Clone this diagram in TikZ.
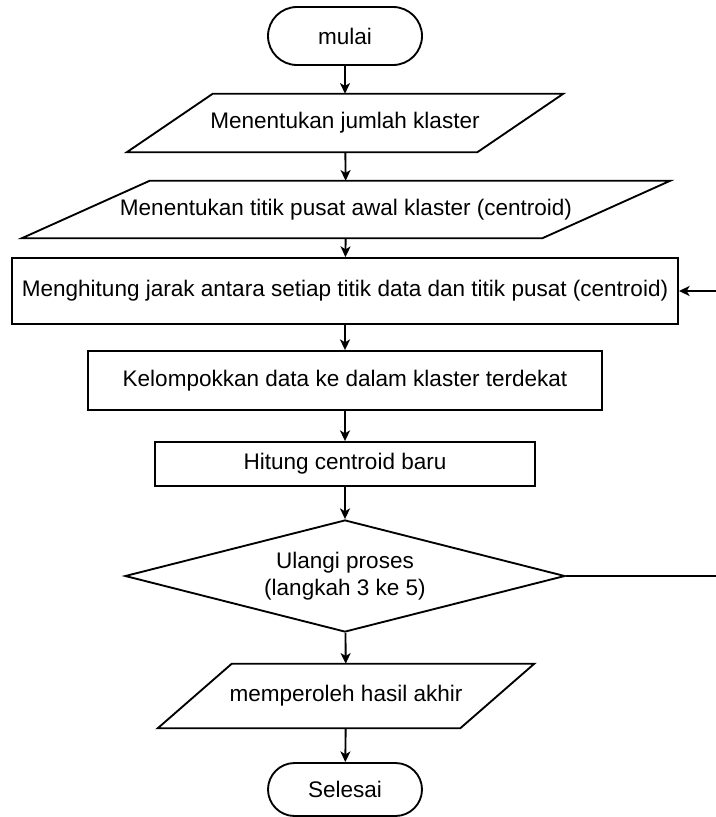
\documentclass[tikz,border=0pt]{standalone}
\usepackage{fontspec}
\setmainfont{Liberation Sans}
\usetikzlibrary{calc, arrows.meta, shapes.geometric}

\tikzset{
    garis/.style={line width=1.4pt},
    panah/.style={garis, -{Stealth[length=8pt, width=7.5pt, inset=2.2pt]}},
    terminal/.style={draw, garis, rectangle, rounded corners=21.75pt,
        minimum width=115.5pt, minimum height=43.5pt},
    proses/.style={draw, garis, rectangle, inner sep=0pt},
    data/.style={rectangle, inner sep=0pt},
    keputusan/.style={draw, garis, diamond, aspect=3.9, inner sep=0pt,
        align=center, minimum width=330pt, minimum height=84pt}
}

% Contorno de un jajar genjang alrededor de un nodo: nombre, desplazamiento.
\newcommand{\jajargenjang}[2]{%
    \draw[garis] ($(#1.north west)+(#2,0)$) -- (#1.north east)
        -- ($(#1.south east)-(#2,0)$) -- (#1.south west) -- cycle;}

\begin{document}
\begin{tikzpicture}[x=0.75pt, y=-0.75pt, font=\fontsize{16.9}{20}\selectfont]

\useasboundingbox (0,0) rectangle (715,817);

% Nodos del diagrama de flujo.
\node[terminal] (mulai) at (345,36) {mulai};
\node[data, minimum width=327pt, minimum height=43.5pt] (jumlah) at (345,123)
    {Menentukan jumlah klaster};
\node[data, minimum width=486pt, minimum height=42.75pt] (awal) at (346,209.5)
    {Menentukan titik pusat awal klaster (centroid)};
\node[proses, minimum width=499.5pt, minimum height=49.5pt] (jarak) at (345,291)
    {Menghitung jarak antara setiap titik data dan titik pusat (centroid)};
\node[proses, minimum width=385.5pt, minimum height=44.25pt] (kelompok) at (345,380.5)
    {Kelompokkan data ke dalam klaster terdekat};
\node[proses, minimum width=285pt, minimum height=33pt] (baru) at (345,464)
    {Hitung centroid baru};
\node[keputusan] (ulang) at (345,576) {Ulangi proses\\(langkah 3 ke 5)};
\node[data, minimum width=282pt, minimum height=48pt] (hasil) at (346,696)
    {memperoleh hasil akhir};
\node[terminal, rounded corners=19.9pt, minimum height=39.75pt] (selesai) at (345,789.5)
    {Selesai};

% Dibujar los jajar genjang.
\jajargenjang{jumlah}{86}
\jajargenjang{awal}{128}
\jajargenjang{hasil}{74}

% Flechas entre los nodos.
\draw[panah] (mulai) -- (jumlah);
\draw[panah] (jumlah) -- (awal);
\draw[panah] (awal) -- (jarak);
\draw[panah] (jarak) -- (kelompok);
\draw[panah] (kelompok) -- (baru);
\draw[panah] (baru) -- (ulang);
\draw[panah] (ulang) -- (hasil);
\draw[panah] (hasil) -- (selesai);

% Vuelta desde la decision al calculo de distancias (fuera del borde).
\coordinate (balik) at (722,576);
\draw[panah] (ulang.east) -- (balik) |- (jarak.east);

\end{tikzpicture}
\end{document}
